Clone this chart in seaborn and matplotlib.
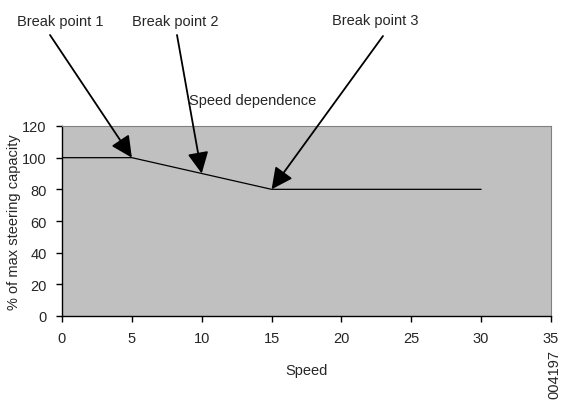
import matplotlib
matplotlib.use("Agg")
import matplotlib.pyplot as plt
import seaborn as sns
import pandas as pd

speed = [0, 5, 15, 30]
capacity = [100, 100, 80, 80]
bp_labels = ["Break point 1", "Break point 2", "Break point 3"]
bp_x = [5, 10, 15]
bp_y = [100, 90, 80]
x_ticks = [0, 5, 10, 15, 20, 25, 30, 35]
y_ticks = [0, 20, 40, 60, 80, 100, 120]

sns.set_theme(style="ticks")
plt.rcParams['font.family'] = ['Liberation Sans', 'DejaVu Sans']

fig = plt.figure(figsize=(5.61, 4.10), dpi=100)
ax = fig.add_axes([62/561, 1-317/410, (551-62)/561, (317-127)/410])
ax.set_facecolor("#c0c0c0")

df = pd.DataFrame({"Speed": speed, "cap": capacity})
sns.lineplot(data=df, x="Speed", y="cap", ax=ax, color="black", lw=0.9)

fs = 10.5
ax.set_xlim(0, 35)
ax.set_ylim(0, 120)
ax.set_xticks(x_ticks)
ax.set_yticks(y_ticks)
ax.tick_params(axis="both", labelsize=fs, length=4, width=1, color="black", pad=7)
ax.set_xlabel("Speed", fontsize=fs, labelpad=13)
ax.set_ylabel("% of max steering capacity", fontsize=fs, labelpad=1)
for s in ["left", "bottom"]:
    ax.spines[s].set_color("black")
    ax.spines[s].set_linewidth(1)
for s in ["top", "right"]:
    ax.spines[s].set_color("#808080")
    ax.spines[s].set_linewidth(0.8)

# text positions in figure pixel coords (from top-left)
text_pos = [(60, 22), (175, 22), (375, 21)]
start_pos = [(50, 36), (177, 36), (383, 37)]
for lab, bx, by, (tx, ty), (sx, sy) in zip(bp_labels, bp_x, bp_y, text_pos, start_pos):
    fig.text(tx/561, 1-ty/410, lab, ha="center", va="center", fontsize=fs)
    ax.annotate("", xy=(bx, by), xycoords="data",
                xytext=(sx/561, 1-sy/410), textcoords="figure fraction",
                arrowprops=dict(arrowstyle="-|>,head_length=0.65,head_width=0.32",
                                mutation_scale=20, color="black",
                                lw=1.3, shrinkA=0, shrinkB=0))

fig.text(253/561, 1-101/410, "Speed dependence", ha="center", va="center", fontsize=fs)
fig.text(554/561, 1-375/410, "004197", ha="center", va="center", fontsize=fs, rotation=90)

fig.savefig("out.png", dpi=100, facecolor="white")
